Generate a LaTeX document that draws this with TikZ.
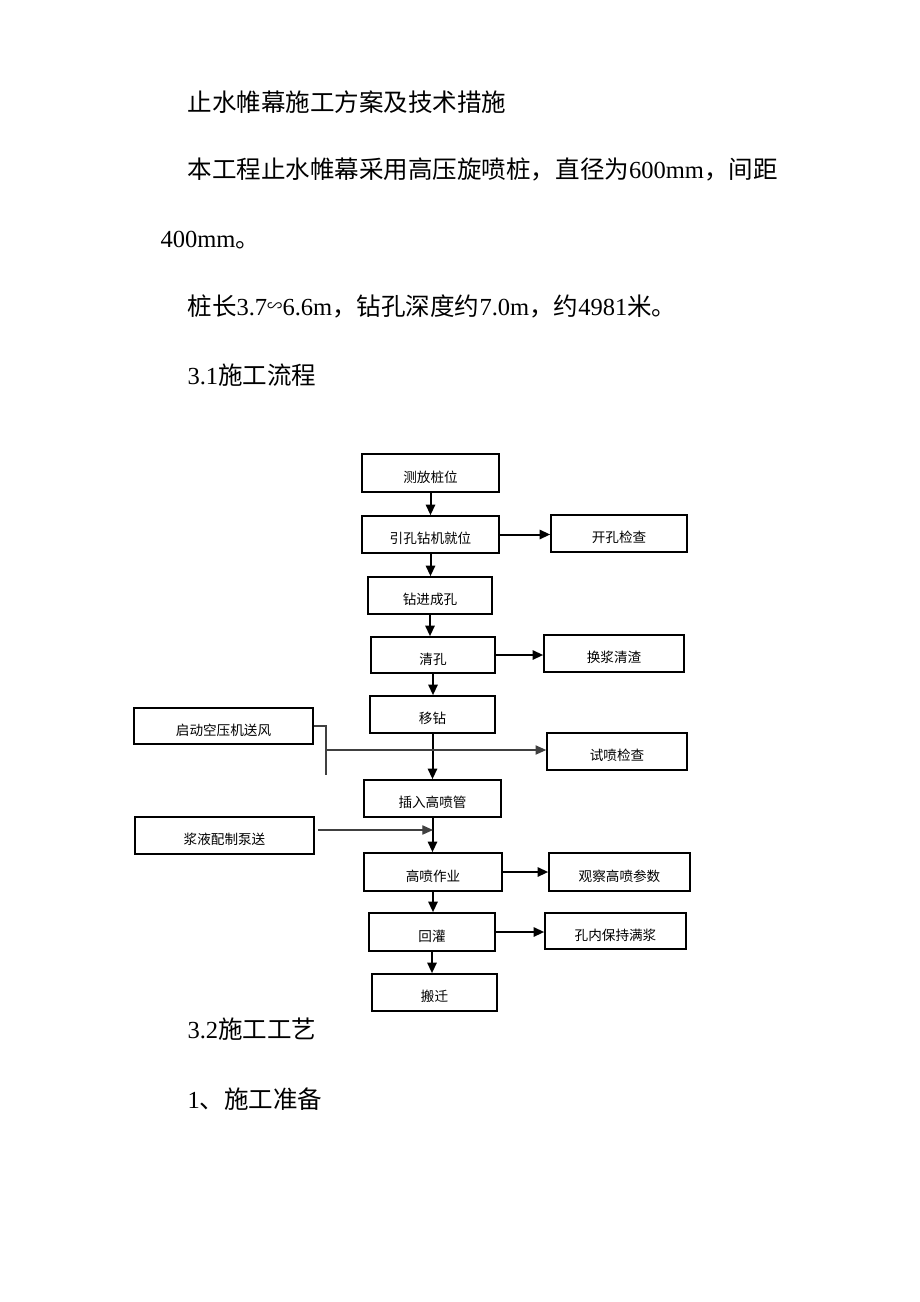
\documentclass[tikz,border=0pt]{standalone}
\usepackage{fontspec}
\setmainfont{Liberation Serif}
\newfontfamily\cjk{Noto Sans CJK SC}
\usetikzlibrary{arrows.meta}

\tikzset{every picture/.style={line width=0.75pt}}
\tikzset{
  >={Triangle[length=8pt,width=7pt]},
  flowbox/.style 2 args={draw, line width=1.2pt, inner sep=0pt, minimum width={#1*0.75pt}, minimum height={#2*0.75pt}, font=\cjk\fontsize{10.2pt}{12pt}\selectfont, text height=13.8pt, text depth=0pt},
  flowline/.style={line width=1.5pt, ->},
  feedline/.style={line width=0.8pt, draw=black!75},
  bodytext/.style={anchor=base west, inner sep=0pt, font=\fontsize{18.4pt}{22pt}\selectfont},
}

\begin{document}
\begin{tikzpicture}[x=0.75pt,y=0.75pt,yscale=-1,xscale=1]
%set diagram left start at 0, and has height of 1302
\useasboundingbox (0,0) rectangle (920,1302);

% Text Node
\draw (187,112) node [bodytext] (title) {{\cjk 止水帷幕施工方案及技术措施}};
% Text Node
\draw (187,179) node [bodytext] (par1) {{\cjk 本工程止水帷幕采用高压旋喷桩，直径为}600mm{\cjk ，间距}};
% Text Node
\draw (160,247) node [bodytext] (par2) {400mm{\cjk 。}};
% Text Node
\draw (187,315) node [bodytext] (par3) {{\cjk 桩长}3.7\raisebox{2.6pt}{\cjk\fontsize{11.5pt}{12pt}\selectfont ∽}6.6m{\cjk ，钻孔深度约}7.0m{\cjk ，约}4981{\cjk 米。}};
% Text Node
\draw (187,384) node [bodytext] (sec31) {3.1{\cjk 施工流程}};

%Main flow boxes
\draw (430.5,473) node [flowbox={137}{38}] (pos) {测放桩位};
\draw (430.5,534.5) node [flowbox={137}{37}] (yk) {引孔钻机就位};
\draw (430,595.5) node [flowbox={124}{37}] (zj) {钻进成孔};
\draw (433,655) node [flowbox={124}{36}] (qk) {清孔};
\draw (432.5,714.5) node [flowbox={125}{37}] (yz) {移钻};
\draw (432.5,798.5) node [flowbox={137}{37}] (cr) {插入高喷管};
\draw (433,872) node [flowbox={138}{38}] (gp) {高喷作业};
\draw (432,932) node [flowbox={126}{38}] (hg) {回灌};
\draw (434.5,992.5) node [flowbox={125}{37}] (bq) {搬迁};

%Side boxes, right
\draw (619,533.5) node [flowbox={136}{37}] (kk) {开孔检查};
\draw (614,653.5) node [flowbox={140}{37}] (hj) {换浆清渣};
\draw (617,751.5) node [flowbox={140}{37}] (sp) {试喷检查};
\draw (619.5,872) node [flowbox={141}{38}] (gc) {观察高喷参数};
\draw (615.5,931) node [flowbox={141}{36}] (kn) {孔内保持满浆};

%Side boxes, left
\draw (223.5,726) node [flowbox={179}{36}] (qd) {启动空压机送风};
\draw (224.5,835.5) node [flowbox={179}{37}] (jy) {浆液配制泵送};

%Main flow arrows
\draw [flowline] (pos.south) -- (pos.south |- yk.north);
\draw [flowline] (yk.south) -- (yk.south |- zj.north);
\draw [flowline] (zj.south) -- (zj.south |- qk.north);
\draw [flowline] (qk.south) -- (qk.south |- yz.north);
\draw [flowline] (yz.south) -- (yz.south |- cr.north);
\draw [flowline] (cr.south) -- (cr.south |- gp.north);
\draw [flowline] (gp.south) -- (gp.south |- hg.north);
\draw [flowline] (hg.south) -- (hg.south |- bq.north);

%Arrows to the right
\draw [flowline] (yk.east) -- (yk.east -| kk.west);
\draw [flowline] (qk.east) -- (qk.east -| hj.west);
\draw [flowline] (gp.east) -- (gp.east -| gc.west);
\draw [flowline] (hg.east) -- (hg.east -| kn.west);

%Air supply
\coordinate (air1) at (326,726);
\coordinate (air2) at (326,775);
\coordinate (air3) at (326,750);
\draw [feedline] (qd.east) -- (air1) -- (air2);
\draw [feedline, ->] (air3) -- (air3 -| sp.west);

%Slurry supply
\coordinate (slurry) at (433,830);
\draw [feedline, ->] ([xshift=2.25pt]jy.east |- slurry) -- (slurry);

% Text Node
\draw (187,1038) node [bodytext] (sec32) {3.2{\cjk 施工工艺}};
% Text Node
\draw (187,1108) node [bodytext] (prep) {1{\cjk 、施工准备}};

\end{tikzpicture}
\end{document}
